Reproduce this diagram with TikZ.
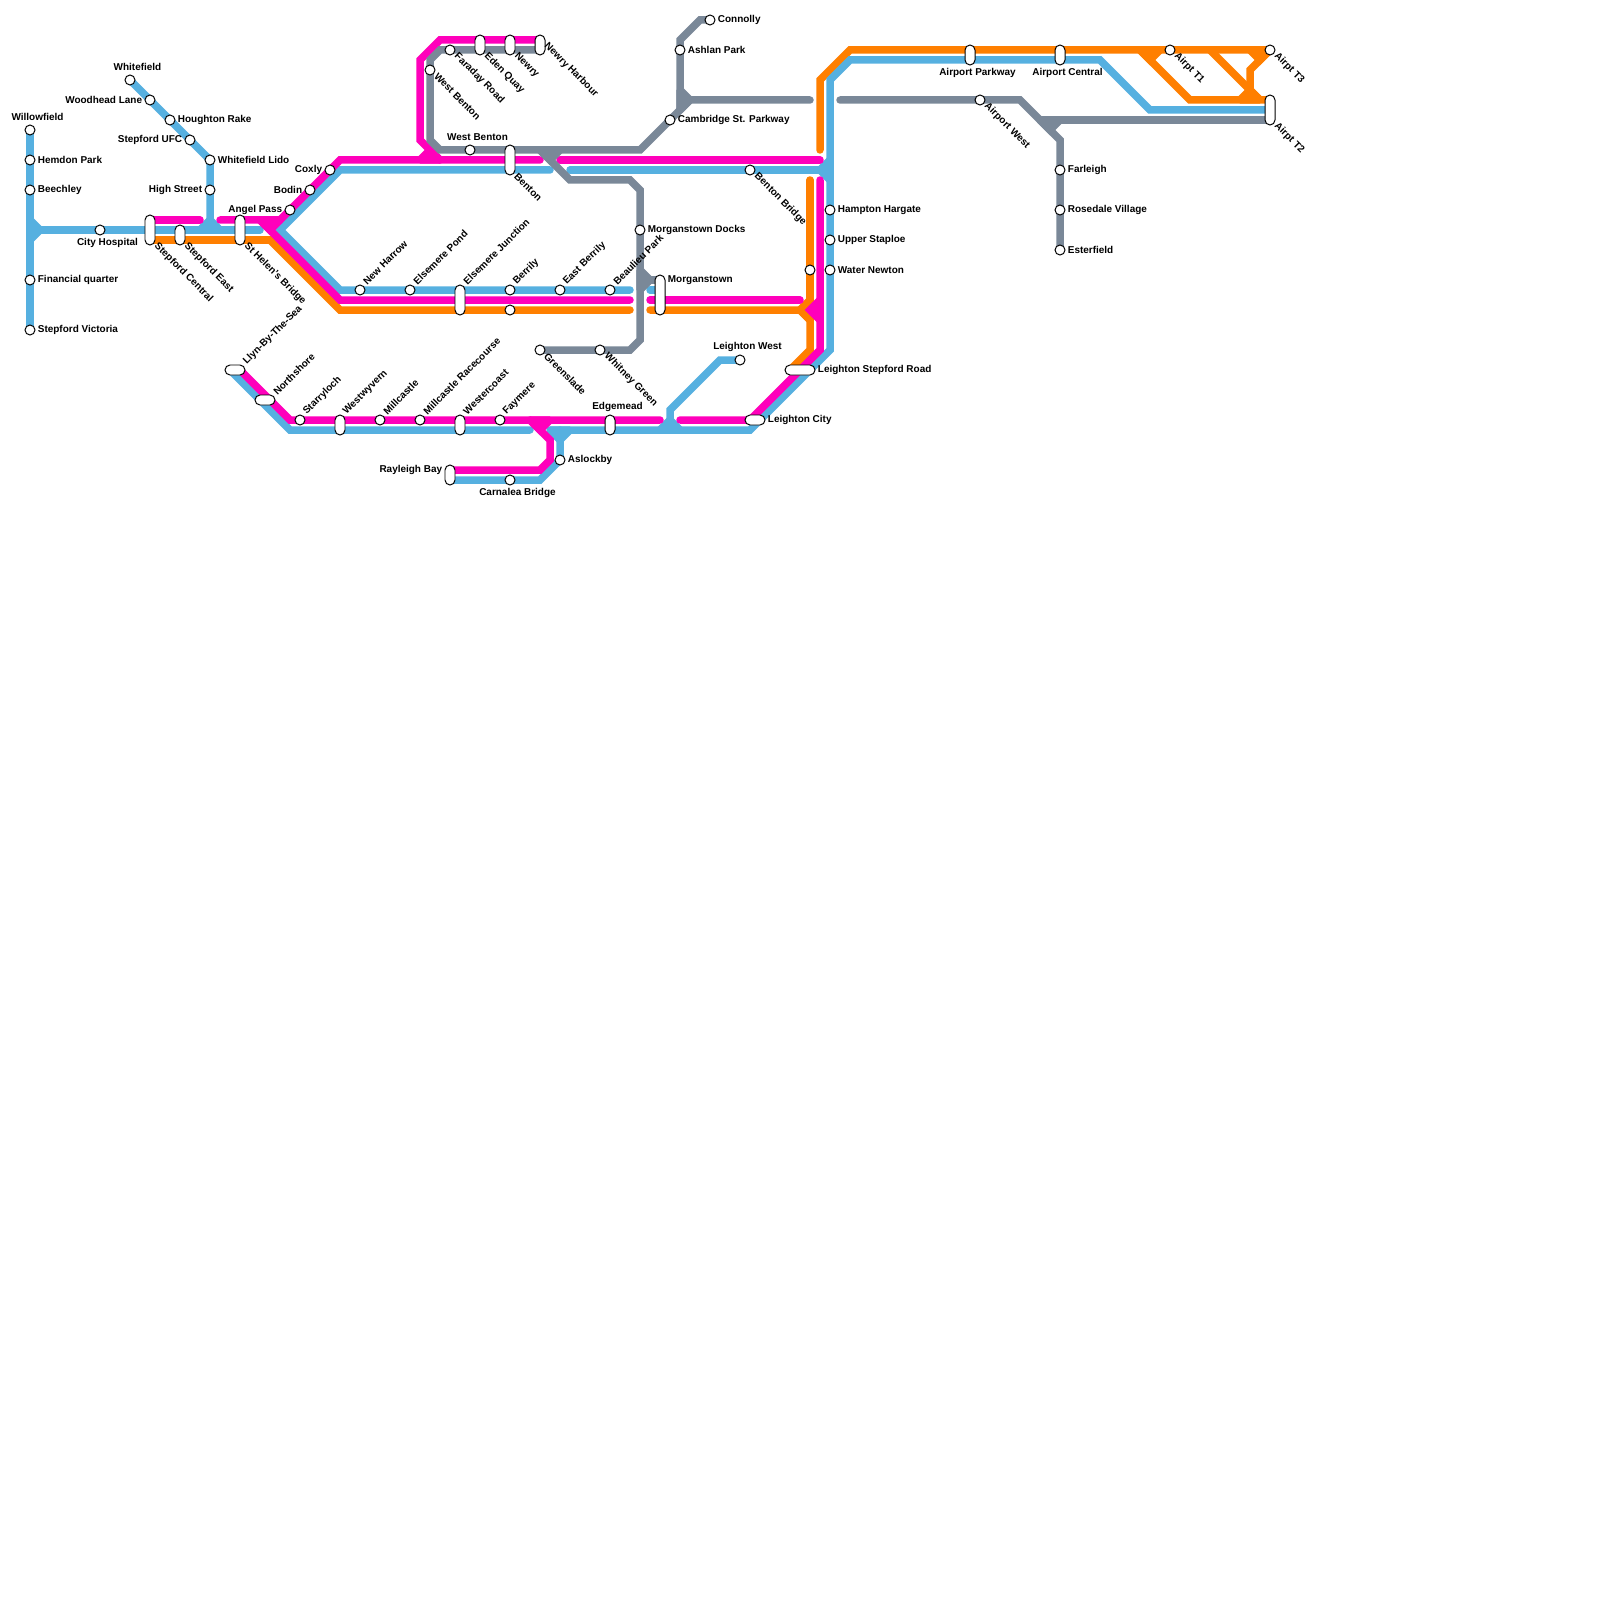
\documentclass[tikz,border=0pt]{standalone}
\usepackage{fontspec}
\setmainfont{Liberation Sans}
\usetikzlibrary{backgrounds}
\definecolor{lineblue}{RGB}{86,176,224}
\definecolor{linepink}{RGB}{255,0,187}
\definecolor{lineorange}{RGB}{255,127,0}
\definecolor{linegray}{RGB}{122,136,152}

\begin{document}
\begin{tikzpicture}[x=1mm,y=-1mm,font=\bfseries\fontsize{2.835}{3.4}\selectfont,
  rail/.style={line width=0.75mm,line cap=round,miter limit=1.5},
  blue/.style={rail,draw=lineblue}, pink/.style={rail,draw=linepink},
  orange/.style={rail,draw=lineorange}, slate/.style={rail,draw=linegray},
  stopdot/.style={circle,draw=black,fill=white,line width=0.28pt,minimum size=1mm,inner sep=0},
  pillv/.style={rectangle,draw=black,fill=white,line width=0.28pt,minimum width=1mm,rounded corners=0.5mm,inner sep=0},
  pillh/.style={rectangle,draw=black,fill=white,line width=0.28pt,minimum height=1mm,rounded corners=0.5mm,inner sep=0},
  lab/.style={inner sep=0}]
\useasboundingbox (0,0) rectangle (160,160);

% stations
\foreach \nm/\x/\y in {willowfield/3/13,hemdonpark/3/16,beechley/3/19,financialquarter/3/28,stepfordvictoria/3/33,cityhospital/10/23,
  whitefield/13/8,woodheadlane/15/10,houghtonrake/17/12,stepfordufc/19/14,whitefieldlido/21/16,highstreet/21/19,
  angelpass/29/21,bodin/31/19,coxly/33/17,newharrow/36/29,elsemerepond/41/29,berrily/51/29,berrilylow/51/31,eastberrily/56/29,beaulieupark/61/29,
  westbenton/43/7,faradayroad/45/5,westbentonb/47/15,connolly/71/2,ashlanpark/68/5,cambridgest/67/12,morganstowndocks/64/23,
  bentonbridge/75/17,hamptonhargate/83/21,upperstaploe/83/24,waternewton/83/27,newtonlow/81/27,greenslade/54/35,whitneygreen/60/35,leightonwest/74/36,
  starryloch/30/42,millcastle/38/42,millcastleracecourse/42/42,faymere/50/42,aslockby/56/46,carnaleabridge/51/48,
  airportwest/98/10,farleigh/106/17,rosedalevillage/106/21,esterfield/106/25,airptone/117/5,airptthree/127/5}{\node[stopdot] (\nm) at (\x,\y) {};}
\foreach \nm/\x/\y/\len in {stepfordcentral/15/23/3,stepfordeast/18/23.5/2,sthelens/24/23/3,edenquay/48/4.5/2,newry/51/4.5/2,newryharbour/54/4.5/2,benton/51/16/3,
  elsemerejunction/46/30/3,morganstown/66/29.5/4,westwyvern/34/42.5/2,westercoast/46/42.5/2,edgemead/61/42.5/2,rayleighbay/45/47.5/2,
  airportparkway/97/5.5/2,airportcentral/106/5.5/2,airpttwo/127/11/3}{\node[pillv,minimum height=\len mm] (\nm) at (\x,\y) {};}
\foreach \nm/\x/\y/\len in {llyn/23.5/37/2,northshore/26.5/40/2,leightoncity/75.5/42/2,leightonstepford/80/37/3}{\node[pillh,minimum width=\len mm] (\nm) at (\x,\y) {};}

% labels
\foreach \x/\y/\txt in {3/16/Hemdon Park,3/19/Beechley,3/28/Financial quarter,3/33/Stepford Victoria,17/12/Houghton Rake,21/16/Whitefield Lido,
  71/2/Connolly,68/5/Ashlan Park,67/12/Cambridge St. Parkway,64/23/Morganstown Docks,83/21/Hampton Hargate,83/24/Upper Staploe,83/27/Water Newton,
  66/28/Morganstown,81/37/Leighton Stepford Road,76/42/Leighton City,56/46/Aslockby,106/17/Farleigh,106/21/Rosedale Village,106/25/Esterfield}
  {\node[lab,anchor=west] (tr\x-\y) at (\x+0.72,\y) {\txt};}
\foreach \x/\y/\txt in {15/10/Woodhead Lane,19/14/Stepford UFC,21/19/High Street,29/21/Angel Pass,31/19/Bodin,33/17/Coxly,45/47/Rayleigh Bay}
  {\node[lab,anchor=east] (tl\x-\y) at (\x-0.72,\y) {\txt};}
\foreach \x/\y/\txt in {3/13/Willowfield,13/8/Whitefield,47/15/West Benton,74/36/Leighton West,61/42/Edgemead,10/23/City Hospital,51/48/Carnalea Bridge,97/6/Airport Parkway,106/6/Airport Central}
  {\ifnum\y=23 \def\dy{1.25}\else\ifnum\y=48 \def\dy{1.25}\else\ifnum\y=6 \def\dy{1.25}\else\def\dy{-1.3}\fi\fi\fi
   \node[lab] (tc\x-\y) at (\x+0.75,\y+\dy) {\txt};}
\foreach \x/\y/\txt in {36/29/New Harrow,41/29/Elsemere Pond,46/29/Elsemere Junction,51/29/Berrily,56/29/East Berrily,61/29/Beaulieu Park,
  24/37/Llyn-By-The-Sea,27/40/Northshore,30/42/Starryloch,34/42/Westwyvern,38/42/Millcastle,42/42/Millcastle Racecourse,46/42/Westercoast,50/42/Faymere}
  {\node[lab,anchor=west,rotate=45] (tu\x-\y) at (\x+0.45,\y-0.65) {\txt};}
\foreach \x/\y/\txt in {15/24/Stepford Central,18/24/Stepford East,24/24/St Helen's Bridge,43/7/West Benton,45/5/Faraday Road,48/5/Eden Quay,51/5/Newry,54/4/Newry Harbour,
  51/17/Benton,75/17/Benton Bridge,54/35/Greenslade,60/35/Whitney Green,98/10/Airport West,117/5/Airpt T1,127/5/Airpt T3,127/12/Airpt T2}
  {\node[lab,anchor=west,rotate=-45] (td\x-\y) at (\x+0.55,\y+0.45) {\txt};}

\begin{scope}[on background layer]
% orange line
\draw[orange] (15,24)--(27,24)--(34,31)--(63,31);
\draw[orange] (65,31)--(80,31)--(81,32)--(81,35)--(79,37);
\draw[orange] (81,18)--(81,32);
\draw[orange,fill=lineorange] (80,31)--(81,30)--(81,32)--cycle;
\draw[orange] (82,15)--(82,8)--(85,5)--(airptthree.center);
\draw[orange] (airptthree.center)--(125,7)--(125,9)--(126,10)--(127,10)--(119,10)--(114,5);
\draw[orange] (121,5)--(125,9);
\draw[orange,fill=lineorange] (114,5)--(116,5)--(115,6)--cycle;
\draw[orange,fill=lineorange] (125,5)--(127,5)--(126,6)--cycle;
\draw[orange,fill=lineorange] (124,10)--(125,9)--(126,10)--cycle;
% blue line
\draw[blue] (willowfield.center)--(stepfordvictoria.center);
\draw[blue] (3,23)--(26,23);
\draw[blue,fill=lineblue] (3,22)--(4,23)--(3,24)--cycle;
\draw[blue] (whitefield.center)--(whitefieldlido.center)--(21,23);
\draw[blue,fill=lineblue] (20,23)--(21,22)--(22,23)--cycle;
\draw[blue] (55,17)--(34,17)--(28,23)--(34,29)--(63,29);
\draw[blue] (65,29)--(66,29);
\draw[blue] (57,17)--(83,17);
\draw[blue,fill=lineblue] (82,17)--(83,16)--(83,18)--cycle;
\draw[blue] (127,11)--(115,11)--(110,6)--(85,6)--(83,8)--(83,35)--(75,43)--(55,43);
\draw[blue] (53,43)--(29,43)--(23,37);
\draw[blue,fill=lineblue] (55,43)--(57,43)--(56,44)--cycle;
\draw[blue] (56,43)--(aslockby.center)--(54,48)--(45,48);
\draw[blue] (67,43)--(67,41)--(72,36)--(leightonwest.center);
\draw[blue,fill=lineblue] (66,43)--(67,42)--(68,43)--cycle;
% pink line
\draw[pink] (15,22)--(20,22);
\draw[pink] (22,22)--(28,22)--(34,16)--(54,16);
\draw[pink] (26,22)--(34,30)--(63,30);
\draw[pink,fill=linepink] (26,22)--(28,22)--(27,23)--cycle;
\draw[pink] (65,30)--(80,30);
\draw[pink] (56,16)--(82,16);
\draw[pink] (54,4)--(44,4)--(42,6)--(42,14)--(44,16);
\draw[pink,fill=linepink] (42,16)--(43,15)--(44,16)--cycle;
\draw[pink] (82,18)--(82,35)--(75,42)--(68,42);
\draw[pink,fill=linepink] (81,31)--(82,30)--(82,32)--cycle;
\draw[pink] (24,37)--(29,42)--(66,42);
\draw[pink] (53,42)--(55,44)--(55,46)--(54,47)--(45,47);
\draw[pink,fill=linepink] (53,42)--(55,42)--(54,43)--cycle;
% grey line
\draw[slate] (54,5)--(44,5)--(43,6)--(43,14)--(44,15)--(64,15)--(69,10)--(81,10);
\draw[slate] (54,15)--(57,18)--(63,18)--(64,19)--(64,34)--(63,35)--(greenslade.center);
\draw[slate,fill=linegray] (54,15)--(56,15)--(55,16)--cycle;
\draw[slate] (connolly.center)--(70,2)--(68,4)--(68,11);
\draw[slate,fill=linegray] (68,9)--(69,10)--(68,11)--cycle;
\draw[slate,fill=linegray] (64,27)--(65,28)--(64,29)--cycle;
\draw[slate] (65,28)--(66,28);
\draw[slate] (84,10)--(102,10)--(106,14)--(esterfield.center);
\draw[slate] (104,12)--(127,12);
\draw[slate,fill=linegray] (104,12)--(106,12)--(105,13)--cycle;
\end{scope}
\end{tikzpicture}
\end{document}
